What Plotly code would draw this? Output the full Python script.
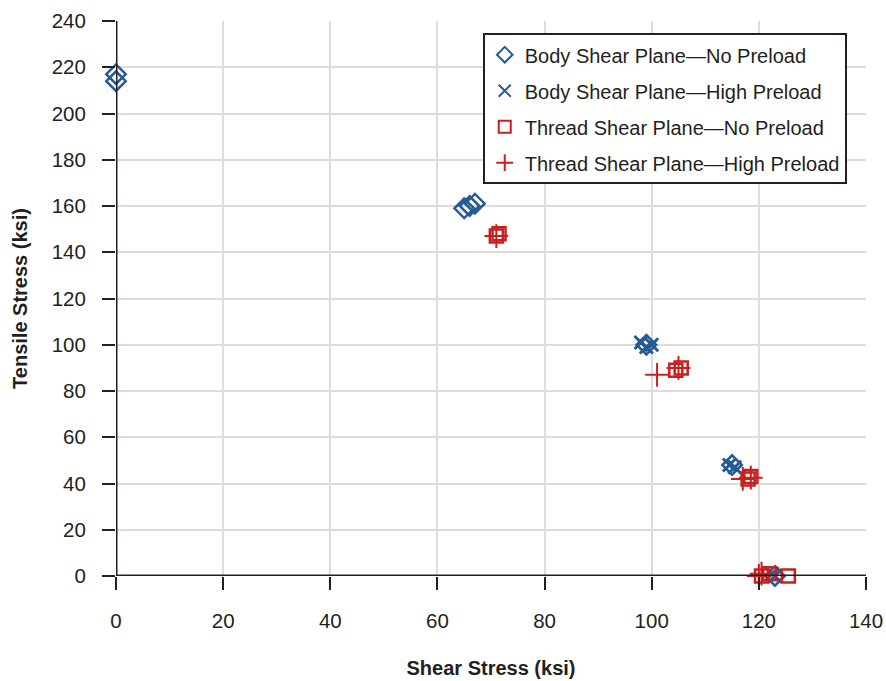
import plotly.graph_objects as go

# Body Shear Plane — No Preload
body_np_x = [0, 0, 65, 66, 67, 99, 115, 123]
body_np_y = [217, 214, 159, 160, 161, 100, 48, 0]
# Body Shear Plane — High Preload
body_hp_x = [98, 99, 100, 114.5, 115.5, 123, 122.5]
body_hp_y = [101, 99, 100, 48, 47, 0, 1]
# Thread Shear Plane — No Preload
thread_np_x = [71, 71.5, 104.5, 105.5, 118, 118.5, 120.5, 122, 125.5]
thread_np_y = [147, 148, 89, 90, 42, 43, 0, 1, 0]
# Thread Shear Plane — High Preload
thread_hp_x = [71, 101, 105, 117, 118.5, 120, 120.5]
thread_hp_y = [147, 87, 90, 42, 42.5, 0, 1]

blue = "#245b94"
red = "#c9201f"
ink = "#231f20"

fig = go.Figure()
fig.add_trace(go.Scatter(x=body_np_x, y=body_np_y, mode="markers", name="Body Shear Plane—No Preload",
                         legendgroup="a",
                         marker=dict(symbol="diamond-open", size=15, color=blue, line=dict(width=2.5, color=blue)),
                         cliponaxis=False))
fig.add_trace(go.Scatter(x=body_hp_x, y=body_hp_y, mode="markers", name="Body Shear Plane—High Preload",
                         legendgroup="b",
                         marker=dict(symbol="x-thin", size=13, color=blue, line=dict(width=3, color=blue)),
                         cliponaxis=False))
fig.add_trace(go.Scatter(x=thread_np_x, y=thread_np_y, mode="markers", name="Thread Shear Plane—No Preload",
                         legendgroup="c",
                         marker=dict(symbol="square-open", size=13, color=red, line=dict(width=2.5, color=red)),
                         cliponaxis=False))
fig.add_trace(go.Scatter(x=thread_hp_x, y=thread_hp_y, mode="markers", name="Thread Shear Plane—High Preload",
                         legendgroup="d",
                         marker=dict(symbol="cross-thin", size=17, color=red, line=dict(width=2, color=red)),
                         cliponaxis=False))

font = "Liberation Sans, Arial, sans-serif"
fig.update_layout(
    width=886, height=681,
    margin=dict(l=116, r=20, t=21, b=105),
    plot_bgcolor="white", paper_bgcolor="white",
    font=dict(family=font, size=20, color=ink),
    showlegend=True,
    legend=dict(x=0.489, y=0.978, xanchor="left", yanchor="top",
                bordercolor=ink, borderwidth=2, bgcolor="white",
                font=dict(size=20, color=ink), itemsizing="constant",
                tracegroupgap=7),
    xaxis=dict(range=[0, 140], dtick=20, showgrid=True, gridcolor="#dcdcdc", gridwidth=2,
               zeroline=False, showline=False, automargin=False, ticklabeloverflow="allow",
               ticks="outside", ticklen=13, tickwidth=1.5, tickcolor=ink,
               ticklabelstandoff=13,
               title=dict(text="<b>Shear Stress (ksi)</b>", font=dict(size=20), standoff=30),
               tickfont=dict(size=20.5)),
    yaxis=dict(range=[0, 240], dtick=20, showgrid=True, gridcolor="#dcdcdc", gridwidth=2,
               zeroline=False, showline=False, automargin=False, ticklabeloverflow="allow",
               ticks="outside", ticklen=13, tickwidth=1.5, tickcolor=ink,
               ticklabelstandoff=12,
               title=dict(text="<b>Tensile Stress (ksi)</b>", font=dict(size=20), standoff=18),
               tickfont=dict(size=20.5)),
    shapes=[
        dict(type="line", xref="x", yref="paper", x0=0, x1=0, y0=0, y1=1,
             line=dict(color=ink, width=3)),
        dict(type="line", xref="paper", yref="y", x0=0, x1=1, y0=0, y1=0,
             line=dict(color=ink, width=3)),
    ],
)
fig.write_html("out.html", config={"displayModeBar": False},
               post_script="document.body.style.margin='0';")
